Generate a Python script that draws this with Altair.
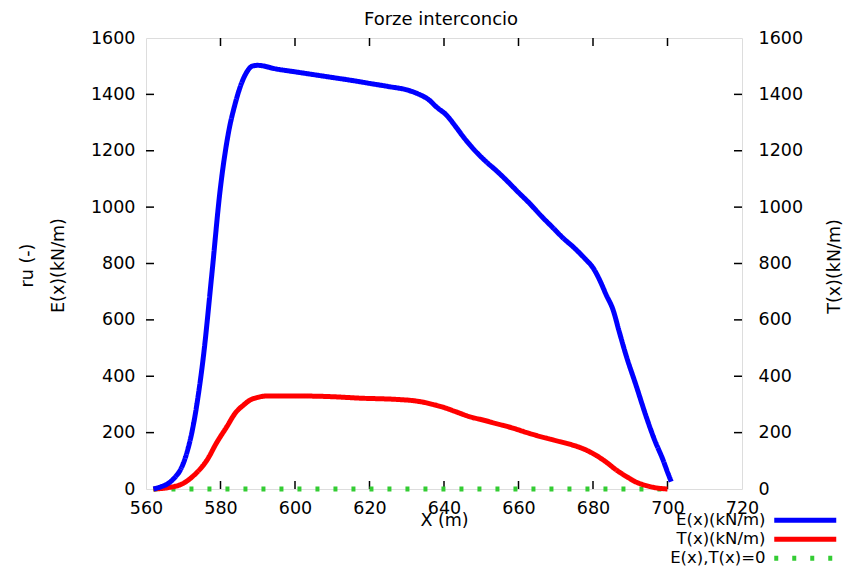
import altair as alt
import pandas as pd

TITLE = "Forze interconcio"
X_TITLE = "X (m)"
Y_LEFT_TITLE = ["ru (-)", "E(x)(kN/m)"]
Y_RIGHT_TITLE = "T(x)(kN/m)"
SERIES = ["E(x)(kN/m)", "T(x)(kN/m)", "E(x),T(x)=0"]
COLORS = ["#0000ff", "#ff0000", "#33cc33"]
DASHES = [[1, 0], [1, 0], [4, 14]]

E_X = [562, 564, 566, 568, 569.2, 571, 572.8, 574, 575.4, 577.7, 579.9, 582.1, 584, 585.3, 587,
       588.5, 590, 595, 600, 605, 610, 615, 620, 625, 630, 633, 636, 638, 640.7, 643,
       645.2, 648, 651.4, 654, 656, 660, 663, 666, 669, 672, 675, 678, 680, 681.8, 683.5,
       685.4, 687, 689, 691.5, 694.3, 696.5, 698.8, 700, 701]
E_Y = [0, 8, 20, 45, 67, 130, 233, 330, 469, 765, 1060, 1261, 1370, 1427, 1478,
       1500, 1503, 1490, 1480, 1470, 1460, 1450, 1439, 1428, 1416, 1402, 1380, 1355, 1326, 1288,
       1249, 1205, 1160, 1130, 1105, 1052, 1013, 970, 930, 890, 855, 815, 785, 741, 690,
       635, 560, 469, 370, 256, 175, 103, 60, 26]

T_X = [562, 566, 570, 573, 576.4, 579, 581.7, 584, 586.2, 588, 590, 592.4, 600, 609, 618,
       627, 632, 634.4, 637, 639.8, 643, 647, 651, 654, 658, 663, 669.3, 674, 678.2, 681,
       683.6, 686, 689, 691.5, 694.3, 697, 700]
T_Y = [0, 5, 20, 50, 103, 165, 221, 270, 298, 316, 325, 330, 330, 328, 322,
       318, 313, 308, 300, 290, 275, 256, 243, 232, 218, 197, 174, 158, 138, 118,
       95, 70, 44, 25, 12, 4, 0]

Z_X = [562, 700]
Z_Y = [0, 0]

X_TICKS = [560, 580, 600, 620, 640, 660, 680, 700, 720]
Y_TICKS = [0, 200, 400, 600, 800, 1000, 1200, 1400, 1600]

W, H = 596, 451
FONT = "DejaVu Sans"
FS = 17.5

rows = []
for name, xs, ys in [(SERIES[2], Z_X, Z_Y), (SERIES[1], T_X, T_Y), (SERIES[0], E_X, E_Y)]:
    for i, (a, b) in enumerate(zip(xs, ys)):
        rows.append({"x": a, "y": b, "series": name, "i": i})
df = pd.DataFrame(rows)

xscale = alt.Scale(domain=[X_TICKS[0], X_TICKS[-1]], nice=False, zero=False)
yscale = alt.Scale(domain=[Y_TICKS[0], Y_TICKS[-1]], nice=False)

common_axis = dict(ticks=False, tickSize=0, domain=False, grid=False, labelFont=FONT,
                   labelFontSize=FS, labelColor="black", labelFlush=False, labelOverlap=False,
                   format="d", titleFont=FONT, titleFontSize=FS, titleFontWeight="normal",
                   titleColor="black")

x_axis = alt.Axis(values=X_TICKS, orient="bottom", labelPadding=10, title=X_TITLE,
                  titleBaseline="alphabetic", titleX=W / 2, titleY=36, titleAlign="center",
                  **common_axis)
y_left_axis = alt.Axis(values=Y_TICKS, orient="left", labelPadding=11, title=Y_LEFT_TITLE,
                       titleAngle=270, titleX=-114, titleY=227, titleBaseline="alphabetic",
                       titleLineHeight=31, titleAlign="center", **common_axis)
y_right_axis = alt.Axis(values=Y_TICKS, orient="right", labelPadding=16, title=Y_RIGHT_TITLE,
                        titleAngle=270, titleX=97, titleY=228, titleBaseline="alphabetic",
                        titleAlign="center", **common_axis)

# wide horizontal stroke sample (custom symbol path, scaled by sqrt(size)/2)
legend = alt.Legend(orient="none", legendX=651, legendY=474, direction="vertical", title=None,
                    symbolType="M-15.5,0H15.5", symbolSize=16, symbolStrokeWidth=5,
                    labelAlign="right", labelOffset={"expr": "-48"}, labelFont=FONT,
                    labelFontSize=16.5, labelColor="black", rowPadding={"expr": "-6.5"},
                    padding=0, labelLimit=0)

lines = alt.Chart(df).mark_line(interpolate="monotone", strokeWidth=5).encode(
    x=alt.X("x:Q", scale=xscale, axis=x_axis),
    y=alt.Y("y:Q", scale=yscale, axis=y_left_axis),
    color=alt.Color("series:N", scale=alt.Scale(domain=SERIES, range=COLORS), legend=legend),
    strokeDash=alt.StrokeDash("series:N", scale=alt.Scale(domain=SERIES, range=DASHES), legend=legend),
    order=alt.Order("i:Q"),
)

xt = pd.DataFrame({"v": X_TICKS[1:-1]})
yt = pd.DataFrame({"v": Y_TICKS[1:-1]})
TL = 8
tick_style = dict(color="black", strokeWidth=1.5)

bottom_ticks = alt.Chart(xt).mark_rule(**tick_style).encode(
    x=alt.X("v:Q", scale=xscale, axis=x_axis), y=alt.value(H), y2=alt.value(H - TL))
top_ticks = alt.Chart(xt).mark_rule(**tick_style).encode(
    x=alt.X("v:Q", scale=xscale, axis=x_axis), y=alt.value(0), y2=alt.value(TL))
left_ticks = alt.Chart(yt).mark_rule(**tick_style).encode(
    y=alt.Y("v:Q", scale=yscale, axis=None), x=alt.value(0), x2=alt.value(TL))
right_ticks = alt.Chart(yt).mark_rule(**tick_style).encode(
    y=alt.Y("v:Q", scale=yscale, axis=y_right_axis), x=alt.value(W - TL), x2=alt.value(W))

chart = alt.layer(bottom_ticks, right_ticks, left_ticks, top_ticks, lines).resolve_axis(
    y="independent"
).properties(
    width=W, height=H,
    title=alt.TitleParams(TITLE, font=FONT, fontSize=18, fontWeight="normal", color="black",
                          offset=0, anchor="middle", dx=-3),
    autosize=alt.AutoSizeParams(type="none"),
    padding={"left": 146, "top": 38, "right": 113, "bottom": 79},
).configure_view(stroke="black", strokeWidth=2).configure(background="white")

chart.save("out.html", embed_options={"renderer": "svg", "actions": False})
